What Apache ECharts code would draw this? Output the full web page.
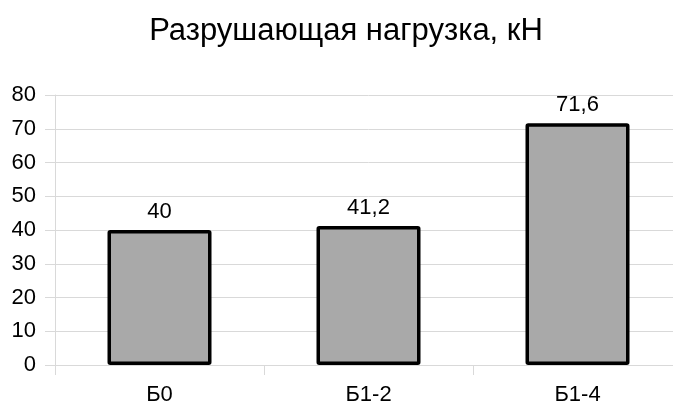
<!DOCTYPE html>
<html><head><meta charset="utf-8">
<script src="https://cdn.jsdelivr.net/npm/echarts@6/dist/echarts.min.js"></script>
<style>html,body{margin:0;padding:0;background:#fff;overflow:hidden;width:673px;height:405px}#c{width:682px;height:405px}</style>
</head><body><div id="c"></div>
<script>
const categories = ['Б0', 'Б1-2', 'Б1-4'];
const values = [40, 41.2, 71.6];
const yTicks = [0, 10, 20, 30, 40, 50, 60, 70, 80];
const titleText = 'Разрушающая нагрузка, кН';

const chart = echarts.init(document.getElementById('c'), null, {renderer: 'canvas'});
const font = 'Liberation Sans, Arial, sans-serif';
chart.setOption({
  animation: false,
  backgroundColor: '#fff',
  title: {
    text: titleText, left: 341, top: 11, textAlign: 'center',
    textStyle: {fontFamily: font, fontSize: 31, fontWeight: 'normal', color: '#000'}
  },
  grid: {left: 55, right: 0, top: 95, bottom: 40, containLabel: false, outerBoundsMode: 'none'},
  xAxis: {
    type: 'category', data: categories,
    axisLine: {show: true, lineStyle: {color: '#d9d9d9', width: 1}},
    axisTick: {show: true, length: 10, alignWithLabel: false, lineStyle: {color: '#d9d9d9'}},
    axisLabel: {fontFamily: font, fontSize: 22, color: '#000', margin: 19}
  },
  yAxis: {
    type: 'value', min: yTicks[0], max: yTicks[yTicks.length - 1], interval: 10,
    axisLine: {show: true, lineStyle: {color: '#d9d9d9', width: 1}},
    axisTick: {show: true, length: 10, lineStyle: {color: '#d9d9d9'}},
    splitLine: {show: true, lineStyle: {color: '#d9d9d9', width: 1}},
    axisLabel: {fontFamily: font, fontSize: 22, color: '#000', margin: 19}
  },
  series: [{
    type: 'bar', data: values, barWidth: 104,
    itemStyle: {color: '#a9a9a9', borderColor: '#000', borderWidth: 3.5, borderRadius: 1},
    label: {
      show: true, position: 'top', distance: 7,
      fontFamily: font, fontSize: 22, color: '#000',
      formatter: p => String(p.value).replace('.', ',')
    }
  }]
});
</script></body></html>
